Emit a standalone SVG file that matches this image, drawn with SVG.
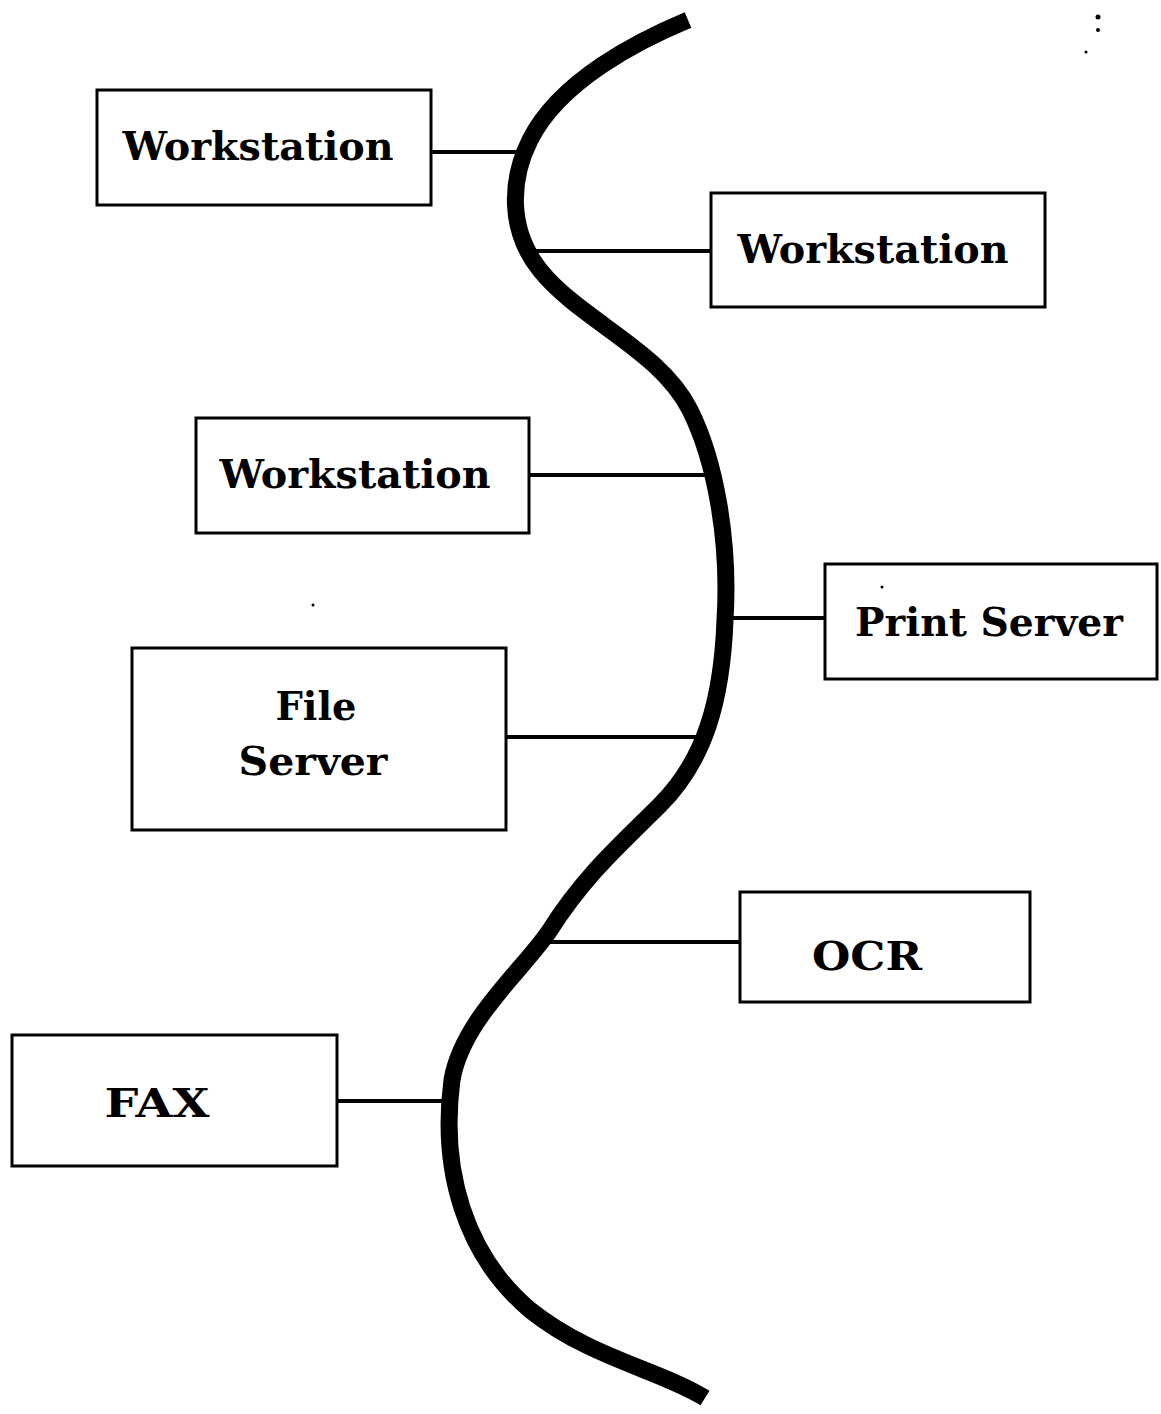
<svg xmlns="http://www.w3.org/2000/svg" width="1161" height="1414" viewBox="0 0 1161 1414">
<style>
.box{fill:#fff;stroke:#000;stroke-width:3}
.lbl{font-family:"DejaVu Serif","Liberation Serif",serif;font-weight:bold;font-size:39px;fill:#000;text-anchor:middle}
.link{stroke:#000;stroke-width:4;fill:none}
.bus{stroke:#000;stroke-width:17;fill:none;stroke-linejoin:round}
</style>
<rect width="1161" height="1414" fill="#fff"/>
<g id="connectors">
<path class="bus" d="M 688 20 C 640 40, 560 80, 530 140 C 510 180, 508 230, 540 270 C 580 320, 660 350, 690 410 C 715 460, 730 540, 725 620 C 722 700, 705 760, 660 805 C 620 845, 585 875, 550 930 C 525 968, 462 1020, 452 1080 C 440 1170, 465 1255, 530 1310 C 590 1358, 660 1370, 705 1398"/>
<line class="link" x1="431" y1="152" x2="522" y2="152"/>
<line class="link" x1="535" y1="251" x2="711" y2="251"/>
<line class="link" x1="529" y1="475" x2="712" y2="475"/>
<line class="link" x1="726" y1="618" x2="825" y2="618"/>
<line class="link" x1="506" y1="737" x2="708" y2="737"/>
<line class="link" x1="548" y1="942" x2="740" y2="942"/>
<line class="link" x1="337" y1="1101" x2="448" y2="1101"/>
</g>
<g id="ws1"><rect class="box" x="97" y="90" width="334" height="115"/><text class="lbl" x="258" y="160" textLength="271" lengthAdjust="spacingAndGlyphs">Workstation</text></g>
<g id="ws2"><rect class="box" x="711" y="193" width="334" height="114"/><text class="lbl" x="873" y="263" textLength="271" lengthAdjust="spacingAndGlyphs">Workstation</text></g>
<g id="ws3"><rect class="box" x="196" y="418" width="333" height="115"/><text class="lbl" x="355" y="488" textLength="271" lengthAdjust="spacingAndGlyphs">Workstation</text></g>
<g id="print"><rect class="box" x="825" y="564" width="332" height="115"/><text class="lbl" x="989" y="636" textLength="268" lengthAdjust="spacingAndGlyphs">Print Server</text></g>
<g id="file"><rect class="box" x="132" y="648" width="374" height="182"/><text class="lbl" x="316" y="720" textLength="81" lengthAdjust="spacingAndGlyphs">File</text><text class="lbl" x="313" y="775" textLength="149" lengthAdjust="spacingAndGlyphs">Server</text></g>
<g id="ocr"><rect class="box" x="740" y="892" width="290" height="110"/><text class="lbl" x="867" y="970" textLength="110" lengthAdjust="spacingAndGlyphs">OCR</text></g>
<g id="fax"><rect class="box" x="12" y="1035" width="325" height="131"/><text class="lbl" x="157" y="1117" textLength="105" lengthAdjust="spacingAndGlyphs">FAX</text></g>
<g id="specks" fill="#000">
<circle cx="1098" cy="17" r="2.5"/><circle cx="1098" cy="30" r="2"/><circle cx="1086" cy="52" r="1.5"/>
<circle cx="313" cy="605" r="1.5"/><circle cx="882" cy="587" r="1.5"/>
</g>
</svg>
